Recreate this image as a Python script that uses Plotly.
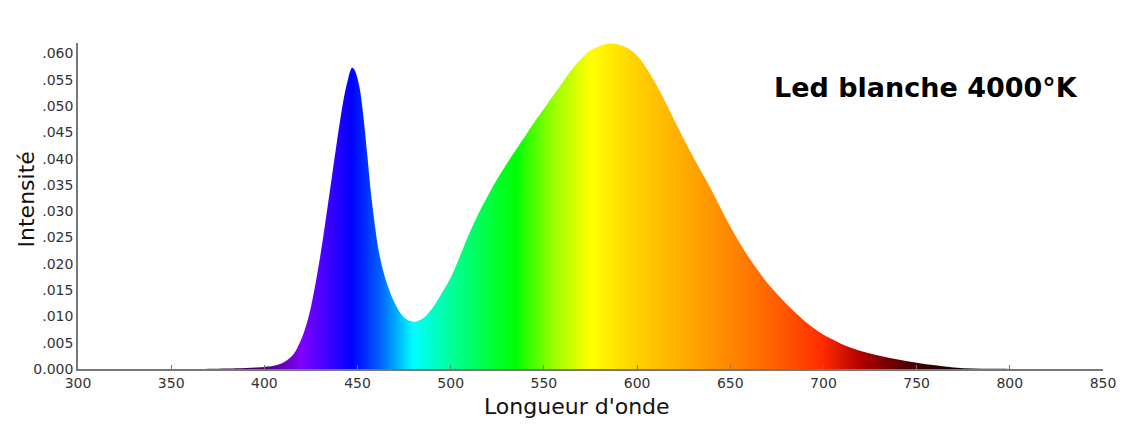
import plotly.graph_objects as go

# ---- data ----
wavelength = [300, 320, 340, 360, 380, 390, 400, 405, 410, 413, 416, 419, 422, 425, 430,
              435, 440, 443, 445, 446, 447, 448, 449, 451, 453, 455, 458, 462, 466, 470,
              475, 480, 485, 490, 495, 500, 505, 510, 515, 520, 525, 530, 535, 540, 545,
              550, 555, 560, 565, 570, 575, 580, 585, 590, 595, 600, 605, 610, 615, 620,
              625, 630, 635, 640, 645, 650, 655, 660, 665, 670, 675, 680, 685, 690, 695,
              700, 705, 710, 720, 730, 740, 750, 760, 770, 780, 790, 800, 820, 850]
intensity = [0.0, 0.0, 0.0, 0.0, 0.0001, 0.0002, 0.0004, 0.0006, 0.0012, 0.0019,
             0.0030, 0.0050, 0.0078, 0.0118, 0.0215, 0.0335, 0.0458, 0.0522, 0.0553,
             0.0566, 0.0573, 0.0571, 0.0564, 0.0537, 0.0485, 0.0415, 0.0310, 0.0213,
             0.0160, 0.0125, 0.0098, 0.0090, 0.0096, 0.0115, 0.0143, 0.0174, 0.0215,
             0.0258, 0.0296, 0.0330, 0.0362, 0.0390, 0.0417, 0.0443, 0.0470, 0.0495,
             0.0520, 0.0545, 0.0570, 0.0590, 0.0606, 0.0614, 0.0619, 0.0617, 0.0610,
             0.0596, 0.0572, 0.0543, 0.0509, 0.0473, 0.0438, 0.0404, 0.0372, 0.0340,
             0.0305, 0.0271, 0.0240, 0.0212, 0.0187, 0.0163, 0.0143, 0.0124, 0.0107,
             0.0091, 0.0077, 0.0065, 0.0056, 0.0047, 0.0034, 0.0025, 0.0018, 0.0012,
             0.0007, 0.0003, 0.0001, 0.00005, 0.00002, 0.0, 0.0]

x_ticks = [300, 350, 400, 450, 500, 550, 600, 650, 700, 750, 800, 850]
y_ticks = [0.0, 0.005, 0.010, 0.015, 0.020, 0.025, 0.030, 0.035, 0.040, 0.045,
           0.050, 0.055, 0.060]
y_tick_labels = ["0.000", ".005", ".010", ".015", ".020", ".025", ".030", ".035",
                 ".040", ".045", ".050", ".055", ".060"]

title_text = "Led blanche 4000°K"
x_title = "Longueur d'onde"
y_title = "Intensité"

# spectrum colours (wavelength -> colour)
spec_wl = [300, 380, 405, 420, 447, 462, 480, 500, 535, 555, 575, 600, 630, 655,
           680, 700, 720, 745, 780, 850]
spec_col = ["#000000", "#2a0038", "#5a0096", "#8000ff", "#0000ff", "#0060ff",
            "#00ffff", "#00ff99", "#00ff00", "#99ff00", "#ffff00", "#ffd000",
            "#ffa500", "#ff8000", "#ff5500", "#ff2a00", "#b00000", "#500000",
            "#000000", "#000000"]

lo, hi = spec_wl[0], spec_wl[-1]
colorscale = [[(w - lo) / (hi - lo), c] for w, c in zip(spec_wl, spec_col)]

fig = go.Figure()
fig.add_trace(go.Scatter(
    x=wavelength, y=intensity, mode="lines",
    line=dict(width=0, shape="spline", smoothing=1.0),
    fill="tozeroy",
    fillgradient=dict(type="horizontal", colorscale=colorscale, start=lo, stop=hi),
    hoverinfo="skip", showlegend=False,
))

axis_font = dict(family="DejaVu Sans", size=14, color="#333333")
title_font = dict(family="DejaVu Sans", size=22, color="#111111")

fig.update_layout(
    width=1130, height=416,
    margin=dict(l=70, r=35, t=35, b=55),
    paper_bgcolor="white", plot_bgcolor="white",
    xaxis=dict(range=[300, 850], tickvals=x_ticks, showgrid=False, zeroline=False,
               showline=True, linecolor="#777777", linewidth=1.5,
               ticks="inside", ticklen=4, tickcolor="#777777",
               tickfont=axis_font, automargin=False),
    yaxis=dict(range=[0, 0.062], tickvals=y_ticks, ticktext=y_tick_labels,
               showgrid=False, zeroline=False,
               showline=True, linecolor="#777777", linewidth=1.5,
               ticks="", tickfont=axis_font, automargin=False),
    annotations=[
        dict(text="<b>" + title_text + "</b>", xref="paper", yref="paper",
             x=0.978, y=0.862, xanchor="right", yanchor="middle", showarrow=False,
             font=dict(family="DejaVu Sans", size=27, color="#000000")),
        dict(text=x_title, xref="paper", yref="paper", x=0.487, y=-0.1135,
             xanchor="center", yanchor="middle", showarrow=False, font=title_font),
        dict(text=y_title, xref="paper", yref="paper", x=-0.0498, y=0.52,
             xanchor="center", yanchor="middle", textangle=-90, showarrow=False,
             font=title_font),
    ],
)

fig.write_html("out.html")
